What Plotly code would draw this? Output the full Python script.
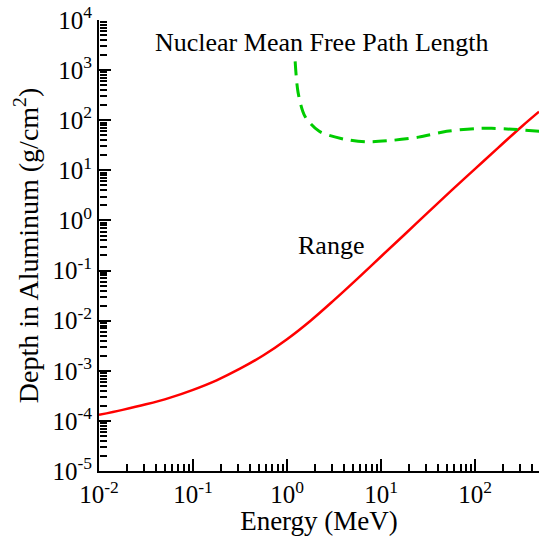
import plotly.graph_objects as go

# Range of protons in aluminum
range_energy = [0.01, 0.0178, 0.0316, 0.0562, 0.1, 0.178, 0.316, 0.562, 1.0, 1.78, 3.16, 5.62,
                10.0, 17.8, 31.6, 56.2, 100.0, 178.0, 316.0, 479.0]
range_depth = [1.32e-4, 1.66e-4, 2.14e-4, 2.88e-4, 4.17e-4, 6.46e-4, 1.10e-3, 2.04e-3, 4.27e-3, 1.0e-2,
               2.57e-2, 6.92e-2, 0.191, 0.525, 1.45, 3.98, 10.7, 28.8, 75.9, 148.0]

# Nuclear mean free path length
mfp_energy = [1.22, 1.31, 1.55, 2.2, 4.0, 7.0, 12.0, 25.0, 50.0, 100.0, 150.0, 250.0, 500.0]
mfp_depth = [1500.0, 360.0, 120.0, 60.0, 42.0, 37.0, 39.0, 46.0, 60.0, 68.0, 69.0, 66.0, 60.0]

x_tickvals = [0.01, 0.1, 1, 10, 100]
x_ticktext = ["10<sup>-2</sup>", "10<sup>-1</sup>", "10<sup>0</sup>", "10<sup>1</sup>", "10<sup>2</sup>"]
y_tickvals = [1e-5, 1e-4, 1e-3, 1e-2, 1e-1, 1, 10, 100, 1000, 10000]
y_ticktext = ["10<sup>-5</sup>", "10<sup>-4</sup>", "10<sup>-3</sup>", "10<sup>-2</sup>", "10<sup>-1</sup>",
              "10<sup>0</sup>", "10<sup>1</sup>", "10<sup>2</sup>", "10<sup>3</sup>", "10<sup>4</sup>"]
minor_mult = [2, 3, 4, 5, 6, 7, 8, 9]
x_decades = [0.01, 0.1, 1, 10, 100]
y_decades = [1e-5, 1e-4, 1e-3, 1e-2, 1e-1, 1, 10, 100, 1000]
x_minor = [d * m for d in x_decades for m in minor_mult]
y_minor = [d * m for d in y_decades for m in minor_mult]

FONT = "Liberation Serif"
XR = [-2, 2.68]
YR = [-5, 4]

fig = go.Figure()
fig.add_trace(go.Scatter(x=range_energy, y=range_depth, mode="lines",
                         line=dict(color="#ff0000", width=2.5, shape="spline", smoothing=1.0),
                         showlegend=False, hoverinfo="skip"))
fig.add_trace(go.Scatter(x=mfp_energy, y=mfp_depth, mode="lines",
                         line=dict(color="#00cc00", width=3, dash="14px,8px", shape="spline", smoothing=0.8),
                         showlegend=False, hoverinfo="skip"))
# invisible trace to anchor the minor-tick axes
fig.add_trace(go.Scatter(x=[x_decades[0]], y=[y_decades[0]], xaxis="x2", yaxis="y2",
                         mode="markers", marker=dict(opacity=0), showlegend=False, hoverinfo="skip"))

fig.add_annotation(x=(322 - 99) / 440.0, xref="paper", y=3.55, yref="y", text="Nuclear Mean Free Path Length",
                   showarrow=False, font=dict(family=FONT, size=26, color="black"),
                   xanchor="center", yanchor="middle")
fig.add_annotation(x=0.47, xref="x", y=-0.5, yref="y", text="Range", showarrow=False,
                   font=dict(family=FONT, size=26, color="black"), xanchor="center", yanchor="middle")

axis_common = dict(
    showgrid=False, zeroline=False, showline=True, linecolor="black", linewidth=2,
    ticks="inside", ticklen=12, tickwidth=2, tickcolor="black",
    tickfont=dict(family=FONT, size=25, color="black"),
    mirror=False, automargin=False,
)
minor_common = dict(
    showgrid=False, zeroline=False, showline=False, showticklabels=False,
    ticks="inside", ticklen=7, tickwidth=1.5, tickcolor="black", automargin=False,
)

fig.update_layout(
    xaxis=dict(type="log", range=XR, tickvals=x_tickvals, ticktext=x_ticktext,
               title=dict(text="Energy (MeV)", font=dict(family=FONT, size=27, color="black"), standoff=0),
               **axis_common),
    yaxis=dict(type="log", range=YR, tickvals=y_tickvals, ticktext=y_ticktext,
               title=dict(text="Depth in Aluminum (g/cm<sup>2</sup>)", font=dict(family=FONT, size=28, color="black"), standoff=6),
               **axis_common),
    xaxis2=dict(type="log", range=XR, tickvals=x_minor, overlaying="x", anchor="free", position=0,
                side="bottom", **minor_common),
    yaxis2=dict(type="log", range=YR, tickvals=y_minor, overlaying="y", anchor="free", position=0,
                side="left", **minor_common),
    width=539, height=536,
    margin=dict(l=99, r=0, t=20, b=65),
    plot_bgcolor="white", paper_bgcolor="white",
    font=dict(family=FONT, color="black"),
)

fig.write_html("out.html")
